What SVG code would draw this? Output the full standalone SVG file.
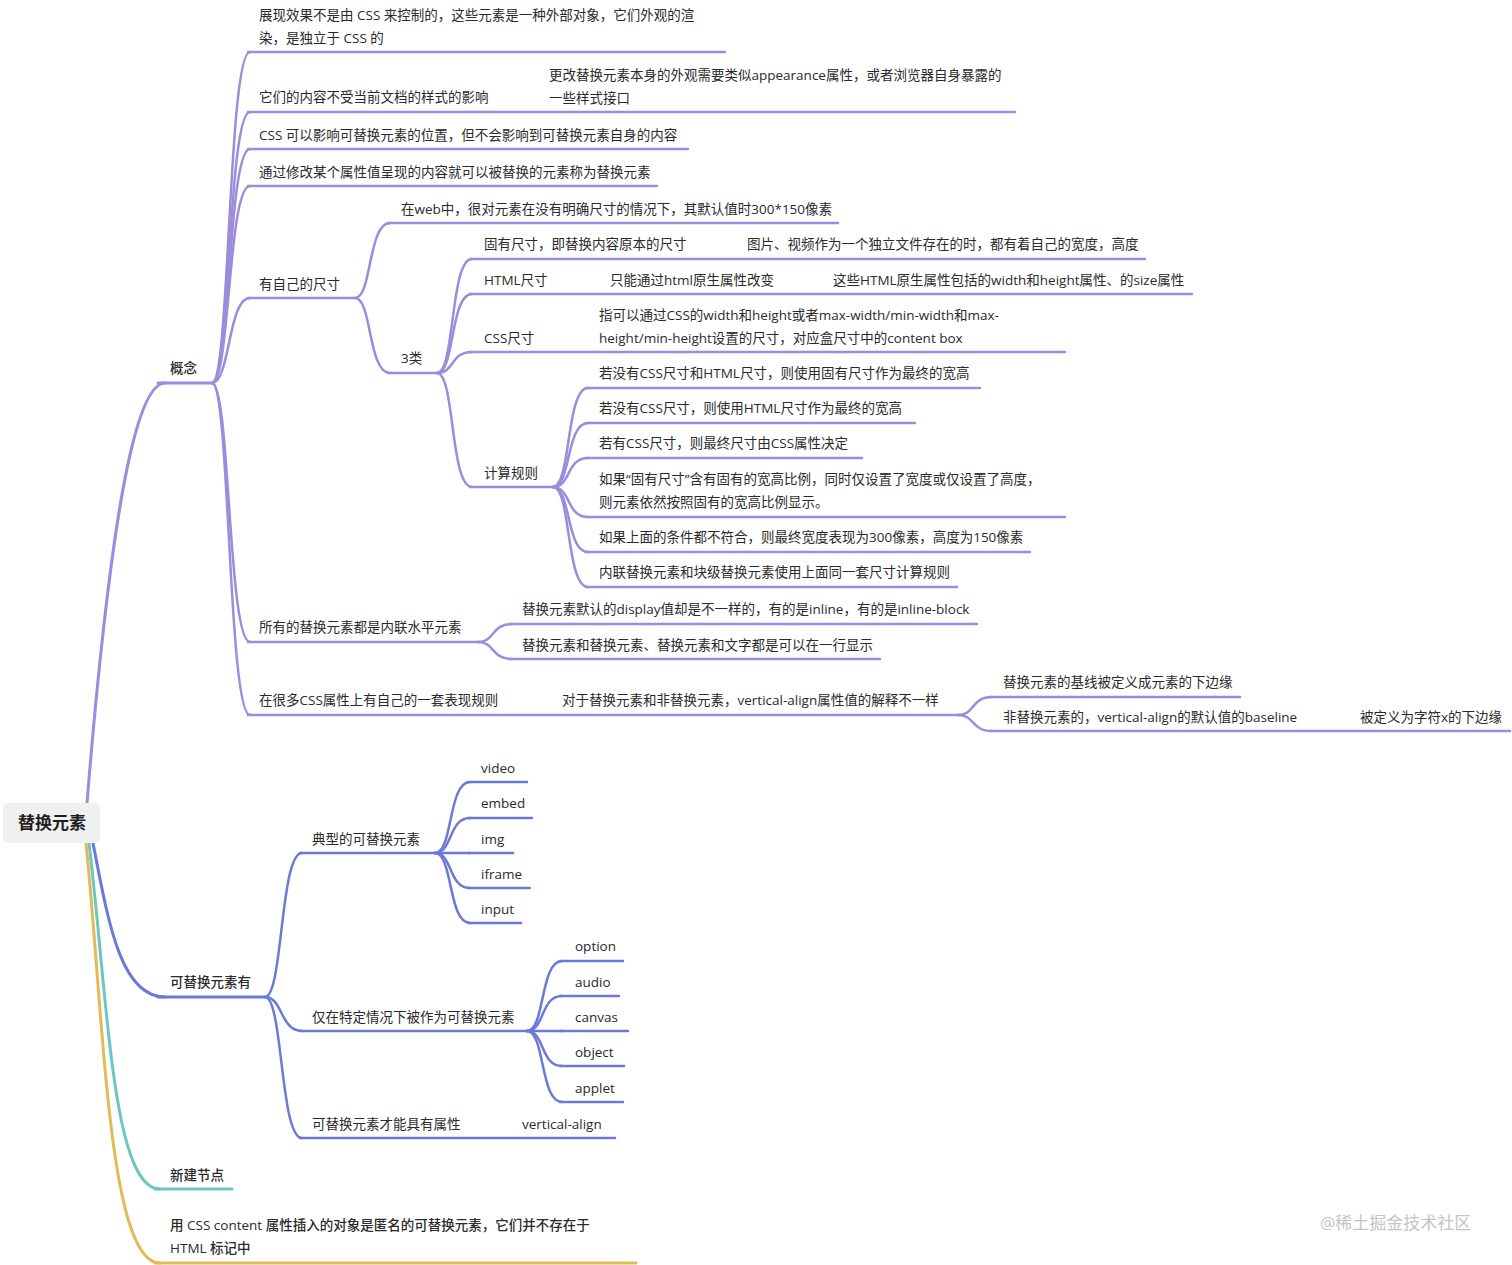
<svg xmlns="http://www.w3.org/2000/svg" width="1512" height="1265" viewBox="0 0 1512 1265">
<style>
text{font-family:"Open Sans","Noto Sans CJK SC",sans-serif;font-size:13.5px;fill:#2a2a2a}
.l1{font-weight:500}
.root{font-size:17px;font-weight:600;fill:#1e1e1e}
.wm{font-size:17px;fill:#c4c4c4}
path,line{fill:none;stroke-linecap:round}
.p{stroke:#9d8bdb;stroke-width:2.5}
.b{stroke:#6b7ad6;stroke-width:2.5}
.t{stroke:#6cc7bf;stroke-width:2.8}
.g{stroke:#e2bb58;stroke-width:2.8}
.k{stroke-width:3}
</style>
<rect width="1512" height="1265" fill="#ffffff"/>
<g id="connectors">
<path class="p k" d="M87 803 C110 520 135 383 165 383"/>
<path class="b k" d="M93 843 C108 920 120 997 165 997"/>
<path class="t k" d="M89 843 C108 1000 112 1189 160 1189"/>
<path class="g k" d="M86 843 C104 1020 108 1263 160 1263"/>
<path class="p" d="M212 383 C230 383 228 52 250 52"/>
<path class="p" d="M212 383 C230 383 228 112 250 112"/>
<path class="p" d="M212 383 C230 383 228 149 250 149"/>
<path class="p" d="M212 383 C230 383 228 186 250 186"/>
<path class="p" d="M212 383 C230 383 228 298 250 298"/>
<path class="p" d="M212 383 C230 383 228 642 250 642"/>
<path class="p" d="M212 383 C230 383 228 715 250 715"/>
<path class="p" d="M355 298 C372 298 368 223 390 223"/>
<path class="p" d="M355 298 C372 298 368 373 390 373"/>
<path class="p" d="M437 373 C455 373 450 259 472 259"/>
<path class="p" d="M437 373 C455 373 450 294 472 294"/>
<path class="p" d="M437 373 C455 373 450 352 472 352"/>
<path class="p" d="M437 373 C455 373 450 487 472 487"/>
<path class="p" d="M553 487 C571 487 566 388 588 388"/>
<path class="p" d="M553 487 C571 487 566 423 588 423"/>
<path class="p" d="M553 487 C571 487 566 458 588 458"/>
<path class="p" d="M553 487 C571 487 566 517 588 517"/>
<path class="p" d="M553 487 C571 487 566 552 588 552"/>
<path class="p" d="M553 487 C571 487 566 587 588 587"/>
<path class="p" d="M478 642 C495 642 491 624 512 624"/>
<path class="p" d="M478 642 C495 642 491 659 512 659"/>
<path class="p" d="M958 715 C975 715 971 697 992 697"/>
<path class="p" d="M958 715 C975 715 971 731 992 731"/>
<path class="b" d="M265 997 C283 997 280 853 302 853"/>
<path class="b" d="M265 997 C283 997 280 1031 302 1031"/>
<path class="b" d="M265 997 C283 997 280 1138 302 1138"/>
<path class="b" d="M435 853 C453 853 448 782 470 782"/>
<path class="b" d="M435 853 C453 853 448 818 470 818"/>
<path class="b" d="M435 853 C453 853 448 853 470 853"/>
<path class="b" d="M435 853 C453 853 448 888 470 888"/>
<path class="b" d="M435 853 C453 853 448 923 470 923"/>
<path class="b" d="M527 1031 C545 1031 540 961 562 961"/>
<path class="b" d="M527 1031 C545 1031 540 996 562 996"/>
<path class="b" d="M527 1031 C545 1031 540 1031 562 1031"/>
<path class="b" d="M527 1031 C545 1031 540 1066 562 1066"/>
<path class="b" d="M527 1031 C545 1031 540 1102 562 1102"/>
</g>
<g id="root">
<rect x="3" y="803" width="97" height="40" rx="5" fill="#eff0f0"/>
<text class="root" x="18" y="829">替换元素</text>
</g>
<g id="n-gainian"><line class="p k" x1="158" y1="383" x2="212" y2="383"/><text class="l1" x="170" y="373">概念</text></g>
<g id="n-c1"><line class="p" x1="248" y1="52" x2="725" y2="52"/><text x="259" y="20">展现效果不是由 CSS 来控制的，这些元素是一种外部对象，它们外观的渲</text><text x="259" y="43">染，是独立于 CSS 的</text></g>
<g id="n-c2"><line class="p" x1="248" y1="112" x2="1015" y2="112"/><text x="259" y="102">它们的内容不受当前文档的样式的影响</text><text x="549" y="80">更改替换元素本身的外观需要类似appearance属性，或者浏览器自身暴露的</text><text x="549" y="103">一些样式接口</text></g>
<g id="n-c3"><line class="p" x1="248" y1="149" x2="688" y2="149"/><text x="259" y="140">CSS 可以影响可替换元素的位置，但不会影响到可替换元素自身的内容</text></g>
<g id="n-c4"><line class="p" x1="248" y1="186" x2="657" y2="186"/><text x="259" y="177">通过修改某个属性值呈现的内容就可以被替换的元素称为替换元素</text></g>
<g id="n-size"><line class="p" x1="248" y1="298" x2="355" y2="298"/><text x="259" y="289">有自己的尺寸</text></g>
<g id="n-web"><line class="p" x1="388" y1="223" x2="838" y2="223"/><text x="401" y="214">在web中，很对元素在没有明确尺寸的情况下，其默认值时300*150像素</text></g>
<g id="n-3lei"><line class="p" x1="388" y1="373" x2="437" y2="373"/><text x="401" y="363">3类</text></g>
<g id="n-guyou"><line class="p" x1="470" y1="259" x2="1145" y2="259"/><text x="484" y="249">固有尺寸，即替换内容原本的尺寸</text><text x="747" y="249">图片、视频作为一个独立文件存在的时，都有着自己的宽度，高度</text></g>
<g id="n-html"><line class="p" x1="470" y1="294" x2="1192" y2="294"/><text x="484" y="285">HTML尺寸</text><text x="610" y="285">只能通过html原生属性改变</text><text x="833" y="285">这些HTML原生属性包括的width和height属性、的size属性</text></g>
<g id="n-css"><line class="p" x1="470" y1="352" x2="1065" y2="352"/><text x="484" y="343">CSS尺寸</text><text x="599" y="320">指可以通过CSS的width和height或者max-width/min-width和max-</text><text x="599" y="343">height/min-height设置的尺寸，对应盒尺寸中的content box</text></g>
<g id="n-rule"><line class="p" x1="470" y1="487" x2="553" y2="487"/><text x="484" y="478">计算规则</text></g>
<g id="n-r1"><line class="p" x1="586" y1="388" x2="980" y2="388"/><text x="599" y="378">若没有CSS尺寸和HTML尺寸，则使用固有尺寸作为最终的宽高</text></g>
<g id="n-r2"><line class="p" x1="586" y1="423" x2="915" y2="423"/><text x="599" y="413">若没有CSS尺寸，则使用HTML尺寸作为最终的宽高</text></g>
<g id="n-r3"><line class="p" x1="586" y1="458" x2="862" y2="458"/><text x="599" y="448">若有CSS尺寸，则最终尺寸由CSS属性决定</text></g>
<g id="n-r4"><line class="p" x1="586" y1="517" x2="1065" y2="517"/><text x="599" y="484">如果“固有尺寸”含有固有的宽高比例，同时仅设置了宽度或仅设置了高度，</text><text x="599" y="507">则元素依然按照固有的宽高比例显示。</text></g>
<g id="n-r5"><line class="p" x1="586" y1="552" x2="1030" y2="552"/><text x="599" y="542">如果上面的条件都不符合，则最终宽度表现为300像素，高度为150像素</text></g>
<g id="n-r6"><line class="p" x1="586" y1="587" x2="957" y2="587"/><text x="599" y="577">内联替换元素和块级替换元素使用上面同一套尺寸计算规则</text></g>
<g id="n-inline"><line class="p" x1="248" y1="642" x2="478" y2="642"/><text x="259" y="632">所有的替换元素都是内联水平元素</text></g>
<g id="n-i1"><line class="p" x1="510" y1="624" x2="977" y2="624"/><text x="522" y="614">替换元素默认的display值却是不一样的，有的是inline，有的是inline-block</text></g>
<g id="n-i2"><line class="p" x1="510" y1="659" x2="880" y2="659"/><text x="522" y="650">替换元素和替换元素、替换元素和文字都是可以在一行显示</text></g>
<g id="n-rules"><line class="p" x1="248" y1="715" x2="958" y2="715"/><text x="259" y="705">在很多CSS属性上有自己的一套表现规则</text><text x="562" y="705">对于替换元素和非替换元素，vertical-align属性值的解释不一样</text></g>
<g id="n-v1"><line class="p" x1="990" y1="697" x2="1240" y2="697"/><text x="1003" y="687">替换元素的基线被定义成元素的下边缘</text></g>
<g id="n-v2"><line class="p" x1="990" y1="731" x2="1510" y2="731"/><text x="1003" y="722">非替换元素的，vertical-align的默认值的baseline</text><text x="1360" y="722">被定义为字符x的下边缘</text></g>
<g id="n-ketihuan"><line class="b k" x1="158" y1="997" x2="265" y2="997"/><text class="l1" x="170" y="987">可替换元素有</text></g>
<g id="n-typical"><line class="b" x1="300" y1="853" x2="435" y2="853"/><text x="312" y="844">典型的可替换元素</text></g>
<g id="n-video"><line class="b" x1="468" y1="782" x2="527" y2="782"/><text x="481" y="773">video</text></g>
<g id="n-embed"><line class="b" x1="468" y1="818" x2="532" y2="818"/><text x="481" y="808">embed</text></g>
<g id="n-img"><line class="b" x1="468" y1="853" x2="513" y2="853"/><text x="481" y="844">img</text></g>
<g id="n-iframe"><line class="b" x1="468" y1="888" x2="530" y2="888"/><text x="481" y="879">iframe</text></g>
<g id="n-input"><line class="b" x1="468" y1="923" x2="521" y2="923"/><text x="481" y="914">input</text></g>
<g id="n-special"><line class="b" x1="300" y1="1031" x2="527" y2="1031"/><text x="312" y="1022">仅在特定情况下被作为可替换元素</text></g>
<g id="n-option"><line class="b" x1="560" y1="961" x2="623" y2="961"/><text x="575" y="951">option</text></g>
<g id="n-audio"><line class="b" x1="560" y1="996" x2="619" y2="996"/><text x="575" y="987">audio</text></g>
<g id="n-canvas"><line class="b" x1="560" y1="1031" x2="628" y2="1031"/><text x="575" y="1022">canvas</text></g>
<g id="n-object"><line class="b" x1="560" y1="1066" x2="624" y2="1066"/><text x="575" y="1057">object</text></g>
<g id="n-applet"><line class="b" x1="560" y1="1102" x2="623" y2="1102"/><text x="575" y="1093">applet</text></g>
<g id="n-attr"><line class="b" x1="300" y1="1138" x2="615" y2="1138"/><text x="312" y="1129">可替换元素才能具有属性</text><text x="522" y="1129">vertical-align</text></g>
<g id="n-new"><line class="t k" x1="155" y1="1189" x2="232" y2="1189"/><text class="l1" x="170" y="1180">新建节点</text></g>
<g id="n-content"><line class="g k" x1="155" y1="1263" x2="636" y2="1263"/><text class="l1" x="170" y="1230">用 CSS content 属性插入的对象是匿名的可替换元素，它们并不存在于</text><text class="l1" x="170" y="1253">HTML 标记中</text></g>
<text class="wm" x="1320" y="1229">@稀土掘金技术社区</text>
</svg>
